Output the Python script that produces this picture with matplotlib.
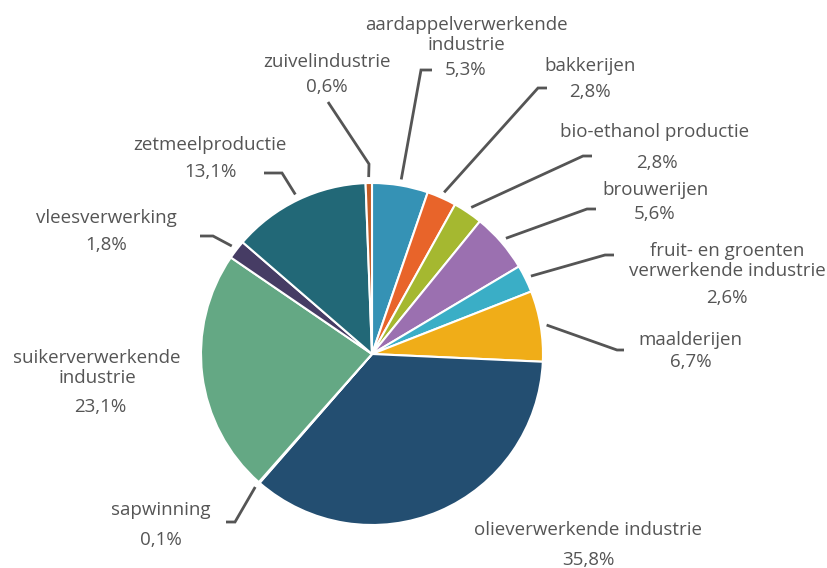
import numpy as np
import matplotlib.pyplot as plt

# data (percentages, clockwise from 12 o'clock)
names = ["aardappelverwerkende\nindustrie", "bakkerijen", "bio-ethanol productie",
         "brouwerijen", "fruit- en groenten\nverwerkende industrie", "maalderijen",
         "olieverwerkende industrie", "sapwinning", "suikerverwerkende\nindustrie",
         "vleesverwerking", "zetmeelproductie", "zuivelindustrie"]
values = [5.3, 2.8, 2.8, 5.6, 2.6, 6.7, 35.8, 0.1, 23.1, 1.8, 13.1, 0.6]
pct_labels = ["5,3%", "2,8%", "2,8%", "5,6%", "2,6%", "6,7%",
              "35,8%", "0,1%", "23,1%", "1,8%", "13,1%", "0,6%"]
colors = ["#3592B5", "#E8642A", "#A5B830", "#9B70B0", "#3AAEC6", "#F0AD18",
          "#234E71", "#7A7A7A", "#64A884", "#463C64", "#226877", "#C25B24"]

W, H = 827, 568
CX, CY, R = 372, 354, 171

# label layout in pixel coords: (x name, y name, x pct, y pct)
label_pos = [(466, 35, 466, 70), (590, 66, 590, 92), (655, 132, 657, 163),
             (655, 190, 655, 214), (727, 261, 727, 298), (690, 340, 691, 362),
             (588, 530, 588, 560), (161, 510, 161, 540), (97, 368, 100, 407),
             (106, 218, 106, 245), (210, 145, 210, 172), (327, 62, 327, 87)]
# leader lines: elbow and end in pixel coords (None = no line)
leaders = [((421, 70), (432, 70)), ((538, 88), (547, 88)), ((583, 156), (592, 156)),
           ((587, 209), (596, 209)), ((605, 255), (614, 255)), ((617, 350), (624, 350)),
           None, ((235, 522), (226, 522)), None,
           ((213, 236), (200, 236)), ((282, 173), (264, 173)), ((369, 164), (328, 102))]

plt.rcParams['font.family'] = ['Open Sans', 'DejaVu Sans']

fig = plt.figure(figsize=(W / 100, H / 100), dpi=100)
ax = fig.add_axes([0, 0, 1, 1])
ax.set_xlim(0, W)
ax.set_ylim(0, H)
ax.set_aspect('equal')
ax.axis('off')

wedges, _ = ax.pie(values, colors=colors, startangle=90, counterclock=False,
                   center=(CX, H - CY), radius=R,
                   wedgeprops=dict(edgecolor='white', linewidth=1.5))
ax.set_xlim(0, W)
ax.set_ylim(0, H)

txt_color = '#555555'
fs = 13.5
for i, w in enumerate(wedges):
    xn, yn, xp, yp = label_pos[i]
    ax.text(xn, H - yn, names[i], ha='center', va='center', fontsize=fs,
            color=txt_color, linespacing=1.1)
    ax.text(xp, H - yp, pct_labels[i], ha='center', va='center', fontsize=fs,
            color=txt_color)
    if leaders[i] is None:
        continue
    mid = np.deg2rad((w.theta1 + w.theta2) / 2)
    sx = CX + R * 1.035 * np.cos(mid)
    sy = (H - CY) + R * 1.035 * np.sin(mid)
    (ex, ey), (tx, ty) = leaders[i]
    ax.plot([sx, ex, tx], [sy, H - ey, H - ty], color='#555555', lw=2,
            solid_capstyle='butt', solid_joinstyle='miter')

fig.savefig('out.png', dpi=100)
